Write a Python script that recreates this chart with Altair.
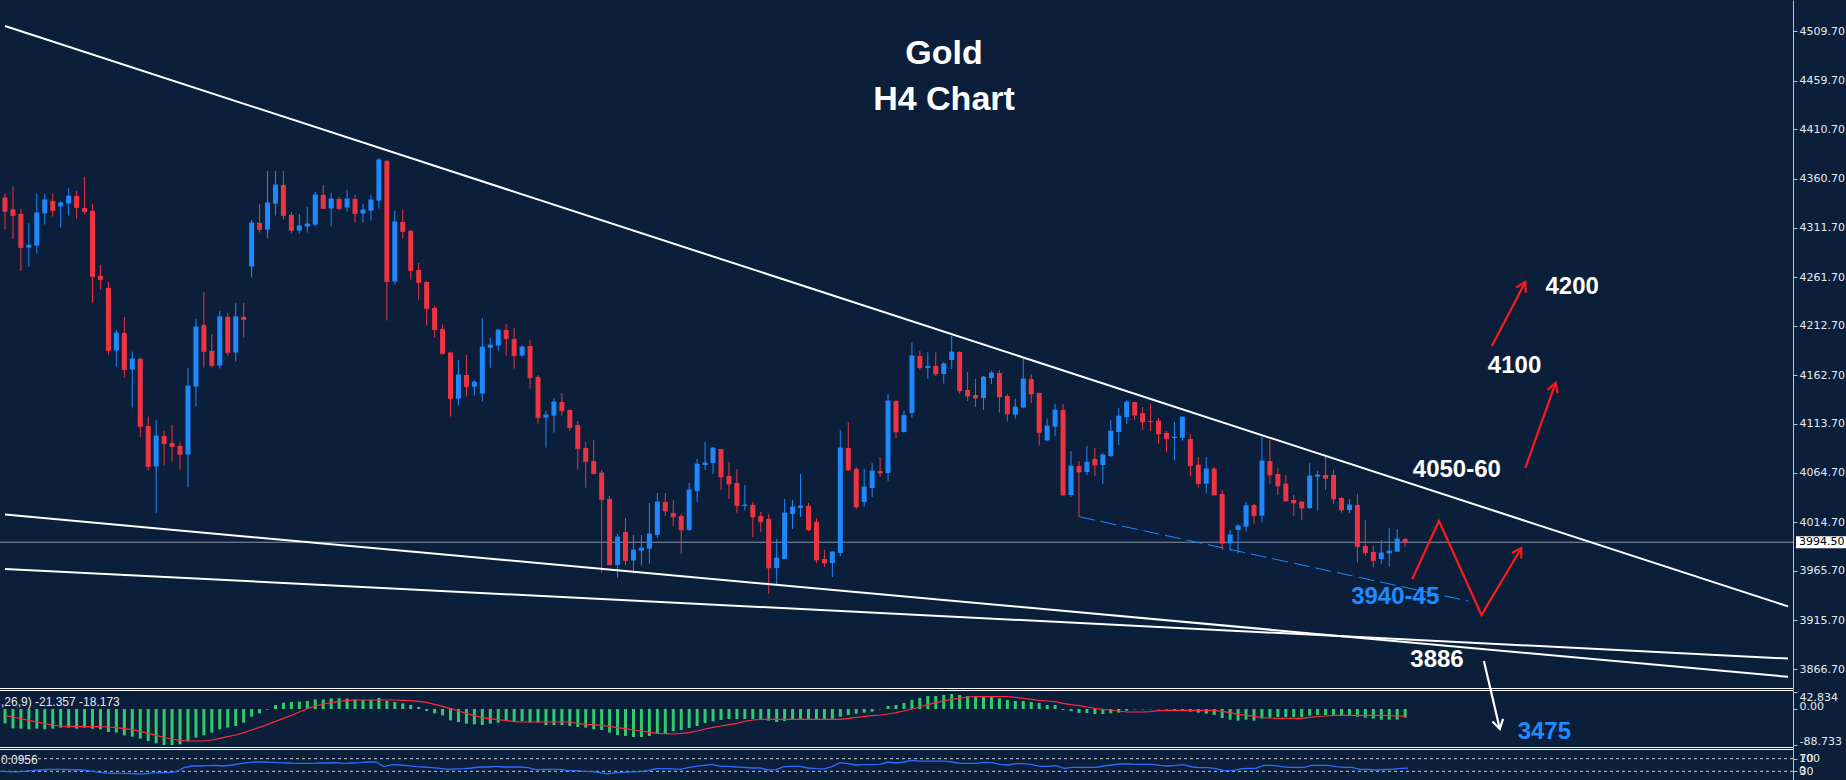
import altair as alt
import pandas as pd

# ---------------- data ----------------
OPEN = [
    4342.0, 4330.0, 4325.5, 4291.5, 4293.5, 4326.0, 4338.6, 4333.0, 4336.0, 4343.6,
    4331.5, 4328.5, 4263.0, 4250.9, 4187.7, 4205.5, 4168.6, 4179.3, 4111.8, 4070.8,
    4101.7, 4094.7, 4091.6, 4082.9, 4151.4, 4213.6, 4187.4, 4172.6, 4221.7, 4185.7,
    4221.7, 4272.4, 4316.4, 4309.7, 4335.9, 4354.7, 4324.5, 4308.7, 4312.7, 4314.7,
    4344.6, 4330.9, 4340.6, 4331.9, 4340.6, 4325.8, 4328.8, 4338.9, 4378.9, 4257.3,
    4317.4, 4308.4, 4269.0, 4256.9, 4230.7, 4209.6, 4185.7, 4139.3, 4163.1, 4151.3,
    4144.3, 4190.7, 4192.7, 4208.5, 4199.4, 4182.6, 4192.3, 4161.1, 4120.1, 4122.1,
    4135.9, 4127.8, 4112.7, 4089.5, 4076.4, 4064.6, 4038.1, 3971.6, 4004.8, 3976.0,
    3986.0, 3988.0, 4001.8, 4035.1, 4024.0, 4021.0, 4006.9, 4046.2, 4072.4, 4074.4,
    4088.5, 4061.3, 4054.2, 4031.1, 4032.1, 4021.0, 4018.0, 3968.6, 3977.6, 4023.0,
    4029.0, 4031.1, 4015.0, 3977.6, 3973.6, 3983.7, 4089.5, 4068.4, 4035.1, 4049.2,
    4066.3, 4064.3, 4136.9, 4105.6, 4124.8, 4182.3, 4170.2, 4172.2, 4164.1, 4178.2,
    4186.3, 4148.0, 4142.9, 4139.9, 4160.1, 4165.1, 4141.9, 4123.1, 4130.2, 4159.1,
    4145.0, 4097.2, 4111.0, 4127.8, 4042.1, 4071.3, 4065.3, 4078.4, 4072.3, 4081.4,
    4105.6, 4120.7, 4135.8, 4124.7, 4116.7, 4117.1, 4104.6, 4099.6, 4099.9, 4098.6,
    4072.7, 4053.6, 4068.7, 4043.1, 3993.4, 4006.9, 4010.2, 4032.1, 4021.3, 4076.4,
    4063.3, 4053.6, 4037.1, 4035.4, 4029.0, 4060.6, 4062.3, 4062.3, 4039.1, 4027.0,
    4032.1, 3990.7, 3984.7, 3977.6, 3983.3, 3985.0, 3997.8]
HIGH = [
    4346.0, 4353.0, 4330.5, 4316.0, 4345.6, 4345.6, 4345.6, 4338.6, 4351.7, 4348.7,
    4362.8, 4335.6, 4274.0, 4257.0, 4208.6, 4221.7, 4186.7, 4180.7, 4121.2, 4117.8,
    4106.8, 4112.8, 4095.7, 4170.3, 4219.6, 4246.9, 4204.5, 4227.7, 4225.7, 4235.8,
    4235.8, 4319.4, 4335.6, 4368.8, 4368.8, 4368.8, 4327.5, 4325.5, 4332.5, 4347.7,
    4354.7, 4346.7, 4342.6, 4349.7, 4344.6, 4335.6, 4344.6, 4381.9, 4379.9, 4328.5,
    4329.5, 4309.4, 4276.1, 4258.0, 4232.8, 4214.0, 4186.7, 4178.3, 4183.3, 4158.0,
    4220.6, 4200.4, 4209.5, 4214.5, 4210.5, 4193.3, 4198.4, 4163.1, 4126.8, 4139.9,
    4145.0, 4128.5, 4116.7, 4095.6, 4097.6, 4067.3, 4041.1, 4002.8, 4019.0, 4001.8,
    4001.8, 4034.1, 4044.2, 4044.2, 4037.1, 4023.0, 4054.2, 4078.4, 4095.6, 4090.5,
    4088.5, 4075.4, 4068.4, 4052.2, 4035.1, 4025.0, 4023.0, 3997.8, 4038.1, 4037.1,
    4063.3, 4034.1, 4019.0, 3986.7, 3985.7, 4107.7, 4115.7, 4070.4, 4068.4, 4074.4,
    4080.4, 4143.9, 4137.9, 4126.8, 4195.7, 4187.3, 4185.9, 4185.9, 4176.2, 4202.4,
    4187.3, 4166.1, 4159.1, 4162.1, 4167.5, 4168.1, 4143.9, 4139.2, 4179.2, 4164.1,
    4145.0, 4119.1, 4133.9, 4133.9, 4086.4, 4076.4, 4091.5, 4089.5, 4084.4, 4117.7,
    4129.8, 4137.8, 4136.0, 4130.8, 4134.2, 4119.7, 4106.6, 4115.7, 4120.8, 4103.6,
    4080.4, 4080.4, 4070.7, 4047.2, 4006.9, 4012.9, 4035.1, 4033.1, 4100.9, 4097.6,
    4069.7, 4062.3, 4042.1, 4036.1, 4074.1, 4066.3, 4080.8, 4067.3, 4040.1, 4037.8,
    4043.1, 4016.9, 3990.7, 3996.8, 4008.9, 4007.9, 3998.8]
LOW = [
    4310.0, 4300.0, 4268.0, 4272.0, 4285.5, 4314.7, 4322.8, 4311.7, 4323.8, 4320.8,
    4324.8, 4236.1, 4249.2, 4183.7, 4171.6, 4160.5, 4130.3, 4100.4, 4066.8, 4024.0,
    4072.0, 4075.8, 4068.0, 4050.0, 4131.3, 4170.6, 4170.6, 4169.6, 4182.7, 4176.6,
    4200.8, 4261.3, 4306.7, 4300.6, 4323.8, 4319.8, 4305.7, 4305.7, 4306.7, 4312.7,
    4330.9, 4312.7, 4328.8, 4327.8, 4316.8, 4316.8, 4318.8, 4330.9, 4218.0, 4254.3,
    4300.6, 4259.3, 4239.1, 4212.9, 4200.8, 4183.7, 4121.2, 4132.3, 4141.3, 4142.3,
    4136.2, 4170.5, 4187.6, 4182.6, 4169.5, 4181.6, 4149.3, 4114.0, 4089.9, 4105.0,
    4122.1, 4107.0, 4067.7, 4049.5, 4063.6, 3963.9, 3971.6, 3958.8, 3971.6, 3962.8,
    3970.9, 3972.9, 3998.8, 4021.0, 4010.9, 3982.7, 4005.9, 4035.1, 4067.3, 4063.3,
    4047.2, 4038.1, 4024.3, 4027.0, 3999.8, 4004.8, 3942.4, 3952.4, 3977.6, 4007.9,
    4020.0, 4005.9, 3973.6, 3969.6, 3959.5, 3980.7, 4066.3, 4028.0, 4030.1, 4040.1,
    4060.3, 4056.3, 4099.6, 4105.0, 4120.1, 4168.1, 4159.1, 4162.1, 4154.4, 4169.1,
    4143.9, 4136.9, 4130.8, 4127.8, 4154.0, 4125.1, 4116.1, 4119.1, 4130.2, 4134.9,
    4091.9, 4096.2, 4101.6, 4041.5, 4040.1, 4020.2, 4062.2, 4061.2, 4053.2, 4080.4,
    4092.5, 4113.6, 4117.7, 4107.6, 4106.6, 4093.9, 4084.8, 4076.8, 4096.9, 4060.6,
    4049.5, 4043.5, 4042.1, 3986.7, 3986.0, 3983.3, 4005.2, 4012.9, 4014.3, 4053.6,
    4042.1, 4035.4, 4021.0, 4016.9, 4028.0, 4026.3, 4047.2, 4033.1, 4024.3, 4024.0,
    3973.9, 3980.7, 3968.9, 3972.9, 3969.9, 3985.0, 3989.4]
CLOSE = [
    4328.0, 4324.0, 4291.5, 4294.0, 4326.5, 4339.6, 4328.8, 4336.6, 4343.6, 4331.9,
    4327.8, 4262.3, 4259.3, 4187.7, 4205.5, 4168.6, 4179.3, 4111.1, 4070.8, 4101.7,
    4094.0, 4091.0, 4082.9, 4152.0, 4211.6, 4186.7, 4172.6, 4221.7, 4185.7, 4221.7,
    4219.0, 4316.4, 4309.7, 4336.6, 4354.7, 4323.8, 4308.7, 4313.4, 4315.4, 4344.6,
    4330.9, 4340.6, 4330.9, 4340.6, 4325.8, 4329.5, 4339.6, 4379.9, 4257.3, 4317.4,
    4307.7, 4268.4, 4256.3, 4230.0, 4208.9, 4184.6, 4139.3, 4163.2, 4151.3, 4156.0,
    4191.3, 4193.3, 4208.5, 4199.7, 4182.6, 4191.3, 4160.4, 4120.1, 4122.8, 4135.9,
    4127.2, 4110.0, 4088.8, 4075.7, 4063.6, 4037.4, 3971.6, 3999.8, 3976.0, 3986.7,
    3988.7, 4002.8, 4035.1, 4026.0, 4020.0, 4006.9, 4047.2, 4073.4, 4074.4, 4089.5,
    4060.3, 4053.2, 4031.4, 4032.1, 4020.0, 4015.0, 3968.6, 3978.6, 4024.0, 4030.1,
    4031.1, 4006.9, 3976.6, 3973.6, 3984.7, 4089.5, 4067.3, 4030.1, 4050.2, 4066.3,
    4064.3, 4136.9, 4105.6, 4122.4, 4182.3, 4170.5, 4171.8, 4164.1, 4174.2, 4186.3,
    4147.0, 4141.9, 4139.9, 4161.1, 4165.1, 4140.9, 4123.8, 4130.8, 4159.1, 4143.9,
    4105.0, 4111.7, 4127.8, 4042.1, 4071.3, 4065.3, 4075.3, 4072.3, 4082.4, 4106.6,
    4121.7, 4135.8, 4122.7, 4115.7, 4116.1, 4103.6, 4098.9, 4100.6, 4120.8, 4071.7,
    4053.6, 4068.4, 4042.1, 3993.4, 4001.8, 4010.9, 4031.4, 4021.3, 4076.4, 4062.3,
    4051.2, 4036.1, 4034.1, 4029.0, 4061.3, 4062.3, 4059.0, 4038.1, 4027.0, 4032.1,
    3990.1, 3984.0, 3976.0, 3983.7, 3985.7, 3997.8, 3994.5]

MACD = [
    -35.3, -47.7, -48.5, -50.1, -48.5, -50.1, -48.5, -46.0, -46.0, -48.5,
    -46.0, -48.5, -50.1, -56.7, -58.3, -64.9, -68.2, -73.1, -78.9, -84.6,
    -88.733, -88.7, -87.1, -78.9, -70.7, -64.9, -58.3, -50.1, -46.0, -41.9,
    -33.7, -18.9, -10.7, -1.6, 9.9, 15.6, 17.3, 18.1, 19.7, 23.8,
    23.8, 26.3, 26.3, 25.5, 23.8, 22.2, 22.2, 27.1, 19.7, 17.3,
    14.0, 9.9, 4.9, -4.9, -10.7, -15.6, -27.9, -32.0, -36.2, -37.8,
    -39.4, -36.2, -33.7, -29.6, -32.0, -29.6, -33.7, -33.7, -39.4, -39.4,
    -39.4, -41.9, -44.4, -46.0, -50.1, -51.8, -58.3, -64.1, -66.6, -69.0,
    -69.0, -66.6, -60.0, -60.0, -54.2, -51.8, -46.8, -41.9, -34.5, -30.4,
    -27.1, -24.7, -24.7, -24.7, -24.7, -24.7, -28.8, -32.0, -29.6, -24.7,
    -24.7, -24.7, -24.7, -24.7, -24.7, -18.9, -14.8, -11.5, -9.0, -6.6,
    -0.8, 7.4, 9.9, 14.8, 22.2, 27.1, 32.0, 32.0, 34.5, 37.0,
    34.5, 32.0, 29.6, 29.6, 29.6, 26.3, 22.2, 19.7, 19.7, 17.3,
    14.8, 9.9, 9.9, -2.5, -4.9, -9.9, -9.9, -12.3, -12.3, -10.7,
    -9.0, -4.1, -0.8, -0.8, -0.8, -0.8, -1.6, -2.5, -4.1, -6.6,
    -9.0, -11.5, -14.8, -22.2, -26.3, -28.8, -26.3, -28.8, -23.8, -21.4,
    -19.7, -19.7, -19.7, -19.7, -16.4, -14.8, -14.8, -14.8, -14.8, -14.8,
    -18.9, -21.4, -23.8, -26.3, -26.3, -26.3, -21.357]
SIGNAL = [
    -15.6, -19.7, -23.8, -27.9, -32.0, -36.2, -39.4, -41.9, -42.7, -42.7,
    -43.6, -43.6, -43.6, -44.4, -46.0, -48.5, -50.9, -55.1, -60.0, -64.9,
    -69.8, -74.0, -77.2, -78.9, -78.9, -78.9, -76.4, -72.3, -68.2, -64.1,
    -58.3, -51.8, -45.2, -37.8, -30.4, -23.0, -15.6, -7.4, 0.8, 7.4,
    12.3, 15.6, 18.9, 20.5, 22.2, 22.2, 22.2, 22.2, 22.2, 22.2,
    21.4, 20.5, 18.9, 16.4, 11.5, 6.6, 0.8, -4.9, -10.7, -16.4,
    -21.4, -23.8, -26.3, -28.8, -31.2, -32.0, -32.0, -32.0, -32.0, -32.0,
    -32.0, -32.0, -35.3, -37.8, -38.6, -40.3, -42.7, -46.0, -48.5, -51.8,
    -54.2, -57.5, -60.0, -60.8, -61.6, -60.0, -58.3, -54.2, -49.3, -45.2,
    -41.9, -38.6, -35.3, -30.4, -27.1, -25.5, -25.5, -25.5, -25.5, -25.5,
    -25.5, -25.5, -25.5, -25.5, -25.5, -25.5, -23.0, -20.5, -18.1, -16.4,
    -14.8, -12.3, -9.0, -4.9, 0.0, 4.9, 10.7, 15.6, 19.7, 23.8,
    26.3, 29.6, 30.4, 30.4, 30.4, 30.4, 30.4, 28.8, 26.3, 23.8,
    21.4, 19.7, 18.1, 14.0, 10.7, 8.2, 4.9, 1.6, -0.8, -2.5,
    -4.9, -7.4, -7.4, -7.4, -6.6, -4.1, -3.3, -3.3, -3.3, -3.3,
    -3.3, -3.3, -3.3, -5.8, -9.0, -13.1, -15.6, -18.1, -21.4, -22.2,
    -23.0, -23.0, -23.0, -23.0, -20.5, -18.1, -17.3, -15.6, -15.6, -15.6,
    -15.6, -15.6, -15.6, -15.6, -16.4, -17.3, -18.173]
RSI = [
    30.0, 28.9, 27.9, 30.0, 32.1, 34.2, 36.3, 36.3, 36.3, 35.3,
    34.2, 32.1, 27.9, 24.7, 23.7, 23.7, 23.7, 21.6, 21.6, 24.7,
    25.8, 25.8, 27.9, 41.6, 46.8, 46.8, 47.9, 48.9, 46.8, 50.0,
    54.2, 57.4, 59.5, 59.5, 58.4, 57.4, 56.3, 55.3, 55.3, 55.3,
    56.3, 56.3, 57.4, 55.3, 56.3, 57.4, 59.5, 59.5, 44.7, 51.1,
    50.0, 47.9, 44.7, 43.7, 41.6, 39.5, 36.3, 37.4, 38.4, 40.5,
    43.7, 43.7, 45.8, 43.7, 43.7, 43.7, 41.6, 35.3, 36.3, 36.3,
    36.3, 32.1, 32.1, 30.0, 28.9, 25.8, 21.6, 25.8, 26.8, 27.9,
    28.9, 32.1, 38.4, 38.4, 37.4, 36.3, 41.6, 45.8, 48.9, 52.1,
    45.8, 45.8, 43.7, 42.6, 40.5, 40.5, 34.2, 35.3, 44.7, 45.8,
    45.8, 40.5, 38.4, 37.4, 44.7, 57.4, 54.2, 50.0, 51.1, 51.1,
    52.1, 59.5, 56.3, 59.5, 64.7, 62.6, 62.6, 62.6, 62.6, 59.5,
    55.3, 55.3, 55.3, 58.4, 57.4, 52.1, 50.0, 54.2, 54.2, 51.1,
    45.8, 45.8, 47.9, 39.5, 42.6, 42.6, 42.6, 42.6, 46.8, 50.0,
    53.2, 53.2, 52.1, 52.1, 52.1, 48.9, 46.8, 48.9, 51.1, 43.7,
    41.6, 41.6, 38.4, 32.1, 32.1, 37.4, 39.5, 39.5, 48.9, 48.9,
    45.8, 42.6, 42.6, 42.6, 48.9, 48.9, 48.9, 44.7, 42.6, 42.6,
    36.3, 36.3, 34.2, 36.3, 36.3, 39.5, 40.0956]

PRICE_TICKS = [4509.70, 4459.70, 4410.70, 4360.70, 4311.70, 4261.70, 4212.70,
               4162.70, 4113.70, 4064.70, 4014.70, 3965.70, 3915.70, 3866.70]
LAST_PRICE = 3994.50
MACD_TICKS = [42.834, 0.0, -88.733]
RSI_LEVELS = [70, 30]
RSI_EXTREMES = ["100", "0"]
MACD_LABEL = ",26,9) -21.357 -18.173"
RSI_LABEL = "0.0956"
TITLE = "Gold\nH4 Chart"

# drawn objects: (id, bar index, price)
TREND_ID = ["upper", "upper", "low1", "low1", "low2", "low2"]
TREND_X = [0, 224.125, 0, 224.125, 0, 224.125]
TREND_P = [4514.9, 3929.8, 4022.4, 3858.8, 3967.5, 3877.2]
SUPPORT_X = [135, 183.96]
SUPPORT_P = [4020.2, 3935.2]
RED_ID = ["a1", "a1", "a2", "a2", "z", "z", "z", "z"]
RED_X = [186.9, 191.1, 191.1, 194.9, 176.9, 180.25, 185.6, 190.6]
RED_P = [4192.3, 4256.8, 4069.3, 4155.0, 3957.4, 4015.9, 3921.1, 3988.7]
WHITE_X = [185.9, 187.9]
WHITE_P = [3874.8, 3806.2]
HEAD_X = [191.1, 194.9, 190.6, 187.9]
HEAD_P = [4256.8, 4155.0, 3988.7, 3806.2]
HEAD_ANGLE = [28, 19, 31, 167]
HEAD_COLOR = ["#ff1a1a", "#ff1a1a", "#ff1a1a", "#ffffff"]
ANN_TEXT = ["4200", "4100", "4050-60", "3940-45", "3886", "3475"]
ANN_X = [197.0, 189.75, 182.5, 174.75, 180.0, 193.5]
ANN_P = [4251.8, 4172.1, 4067.3, 3939.3, 3875.8, 3803.2]
ANN_COLOR = ["#ffffff", "#ffffff", "#ffffff", "#1e8cff", "#ffffff", "#1e8cff"]

# ---------------- styling ----------------
BG = "#0b1f3a"
RED = "#ee3342"
BLUE = "#1e88ff"
GREEN = "#2fcb6c"
SIGRED = "#ff2b3c"
RSIBLUE = "#2f6bff"
AXC = "#b9c1ca"
LBL = "#e6e9ee"
W = 1793
H_MAIN, H_MACD, H_RSI = 688, 62, 30

N = len(OPEN)
bars = pd.DataFrame({"i": list(range(N)), "open": OPEN, "high": HIGH, "low": LOW, "close": CLOSE})
ind = pd.DataFrame({"i": list(range(N)), "macd": MACD, "signal": SIGNAL, "rsi": RSI})

XS = alt.Scale(domain=[0, 224.125], nice=False, zero=False)
PS = alt.Scale(domain=[3847.55, 4541.1], nice=False, zero=False)
MS = alt.Scale(domain=[-101.1, 51.8], nice=False, zero=False)
RS = alt.Scale(domain=[2.4, 97.6], nice=False, zero=False)

axis_common = dict(orient="right", title=None, grid=False, domainColor=AXC, tickColor=AXC,
                   tickSize=4, labelColor=LBL, labelFont="DejaVu Sans", labelFontSize=11,
                   labelPadding=2, labelOverlap=False, labelFlush=False)
price_axis = alt.Axis(values=PRICE_TICKS, format=".2f", labelBaseline="middle", **axis_common)
macd_axis = alt.Axis(
    values=MACD_TICKS,
    labelExpr="datum.value == 0 ? '0.00' : (datum.value < 0 ? '-' + format(-datum.value, '.3f') : format(datum.value, '.3f'))",
    labelBaseline={"condition": {"test": "datum.value > 1", "value": "top"}, "value": "alphabetic"},
    **axis_common)
rsi_axis = alt.Axis(values=RSI_LEVELS, labelBaseline="middle", **axis_common)


def X(field="i"):
    return alt.X(f"{field}:Q", scale=XS, axis=None)


def PY(field):
    return alt.Y(f"{field}:Q", scale=PS, axis=price_axis)


candle_color = alt.condition("datum.close >= datum.open", alt.value(BLUE), alt.value(RED))

# ---------------- main price panel ----------------
base = alt.Chart(bars)
last_df = pd.DataFrame({"p": [LAST_PRICE]})
price_line = alt.Chart(last_df).mark_rule(color="#8795a4", strokeWidth=1, clip=True).encode(y=PY("p"))
wicks = base.mark_rule(clip=True, strokeWidth=1).encode(x=X(), y=PY("low"), y2="high:Q", color=candle_color)
bodies = base.mark_bar(clip=True, size=5).encode(x=X(), y=PY("open"), y2="close:Q", color=candle_color)
doji = base.mark_tick(clip=True, orient="horizontal", size=5, thickness=1).encode(
    x=X(), y=PY("close"), color=candle_color)

trend_df = pd.DataFrame({"id": TREND_ID, "x": TREND_X, "p": TREND_P, "k": list(range(len(TREND_ID)))})
trend = alt.Chart(trend_df).mark_line(color="#ffffff", strokeWidth=2, clip=True).encode(
    x=X("x"), y=PY("p"), detail="id:N", order="k:Q")

sup_df = pd.DataFrame({"x": SUPPORT_X, "p": SUPPORT_P})
support = alt.Chart(sup_df).mark_line(color=BLUE, strokeWidth=1, strokeDash=[16, 6]).encode(
    x=X("x"), y=PY("p"))

red_df = pd.DataFrame({"id": RED_ID, "x": RED_X, "p": RED_P, "k": list(range(len(RED_ID)))})
red_paths = alt.Chart(red_df).mark_line(color="#ff1a1a", strokeWidth=2.2).encode(
    x=X("x"), y=PY("p"), detail="id:N", order="k:Q")

white_df = pd.DataFrame({"x": WHITE_X, "p": WHITE_P})
white_path = alt.Chart(white_df).mark_line(color="#ffffff", strokeWidth=2.2).encode(x=X("x"), y=PY("p"))

head_df = pd.DataFrame({"x": HEAD_X, "p": HEAD_P, "a": HEAD_ANGLE, "c": HEAD_COLOR})
heads = alt.Chart(head_df).mark_point(shape="M-0.6,1L0,0L0.6,1", filled=False, size=330,
                                      strokeWidth=2.2, opacity=1).encode(
    x=X("x"), y=PY("p"), angle=alt.Angle("a:Q", scale=None), color=alt.Color("c:N", scale=None))

ann_df = pd.DataFrame({"t": ANN_TEXT, "x": ANN_X, "p": ANN_P, "c": ANN_COLOR})
ann = alt.Chart(ann_df).mark_text(font="Liberation Sans", fontWeight="bold", fontSize=24,
                                  baseline="middle", align="center").encode(
    x=X("x"), y=PY("p"), text="t:N", color=alt.Color("c:N", scale=None))

title = alt.Chart(pd.DataFrame({"t": [TITLE]})).mark_text(
    font="Liberation Sans", fontWeight="bold", fontSize=34, color="#ffffff", align="center",
    baseline="middle", lineBreak="\n", lineHeight=46).encode(
    text="t:N", x=alt.value(944), y=alt.value(54))

box = alt.Chart(last_df).mark_rect(color="#ffffff", yOffset=-6, y2Offset=6).encode(
    y=PY("p"), y2="p:Q", x=alt.value(1796), x2=alt.value(1846))
box_text = alt.Chart(last_df).mark_text(font="DejaVu Sans", fontSize=11, color="#000000",
                                        align="left", baseline="middle").encode(
    y=PY("p"), x=alt.value(1799), text=alt.Text("p:Q", format=".2f"))

main = alt.layer(price_line, wicks, bodies, doji, trend, support, red_paths, white_path,
                 heads, ann, title, box, box_text).properties(width=W, height=H_MAIN)

# ---------------- MACD panel ----------------
mbase = alt.Chart(ind)
hist = mbase.mark_bar(clip=True, size=3, color=GREEN).encode(
    x=X(), y=alt.Y("macd:Q", scale=MS, axis=macd_axis), y2=alt.datum(0))
sig = mbase.mark_line(clip=True, color=SIGRED, strokeWidth=1.2).encode(
    x=X(), y=alt.Y("signal:Q", scale=MS, axis=macd_axis))
macd_txt = alt.Chart(pd.DataFrame({"t": [MACD_LABEL]})).mark_text(
    font="Liberation Sans", fontSize=12, color="#e6e9ee", align="left", baseline="middle").encode(
    text="t:N", x=alt.value(1), y=alt.value(13.5))
frame = [alt.Chart(pd.DataFrame({"d": [0]})).mark_rule(color="#ffffff", strokeWidth=1, clip=True).encode(
    y=alt.value(v), x=alt.value(0), x2=alt.value(W)) for v in (0.5, 2.5, 59.5, 61.5)]
macd = alt.layer(hist, sig, macd_txt, *frame).properties(width=W, height=H_MACD)

# ---------------- RSI panel ----------------
lvl_df = pd.DataFrame({"lvl": RSI_LEVELS, "mx": RSI_EXTREMES})
levels = alt.Chart(lvl_df).mark_rule(color="#c9cfd6", strokeDash=[3, 3], strokeWidth=1, clip=True).encode(
    y=alt.Y("lvl:Q", scale=RS, axis=rsi_axis))
rsi_line = alt.Chart(ind).mark_line(clip=True, color=RSIBLUE, strokeWidth=1.3).encode(
    x=X(), y=alt.Y("rsi:Q", scale=RS, axis=rsi_axis))
extremes = alt.Chart(lvl_df).mark_text(font="DejaVu Sans", fontSize=11, color=LBL,
                                       align="left", baseline="middle").encode(
    y=alt.Y("lvl:Q", scale=RS, axis=rsi_axis), x=alt.value(W + 6), text="mx:N")
rsi_txt = alt.Chart(pd.DataFrame({"t": [RSI_LABEL]})).mark_text(
    font="Liberation Sans", fontSize=12, color="#e6e9ee", align="left", baseline="middle").encode(
    text="t:N", x=alt.value(1), y=alt.value(10))
rsi = alt.layer(levels, rsi_line, extremes, rsi_txt).properties(width=W, height=H_RSI)

chart = alt.vconcat(main, macd, rsi, spacing=0, bounds="flush").properties(
    background=BG, padding=0).configure_view(stroke=None)

chart.save("out.html", embed_options={"renderer": "svg", "actions": False})
